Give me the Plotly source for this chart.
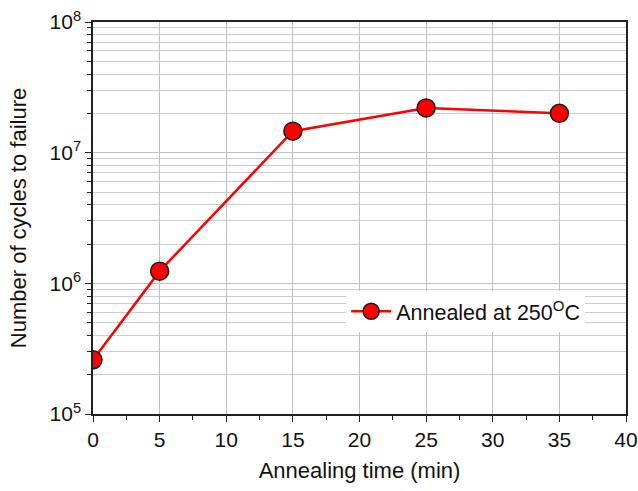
import plotly.graph_objects as go

# Fatigue life vs. annealing time
annealing_time = [0, 5, 15, 25, 35]
cycles_to_failure = [2.6e5, 1.24e6, 1.46e7, 2.2e7, 2.0e7]

x_ticks = [0, 5, 10, 15, 20, 25, 30, 35, 40]
y_ticks = [1e5, 1e6, 1e7, 1e8]
y_tick_text = ["10<sup>5</sup>", "10<sup>6</sup>", "10<sup>7</sup>", "10<sup>8</sup>"]
minor_y = [m * 10 ** e for e in (5, 6, 7) for m in range(2, 10)]

series_name = "Annealed at 250<sup>O</sup>C"

fig = go.Figure()
fig.add_trace(go.Scatter(
    x=annealing_time,
    y=cycles_to_failure,
    mode="lines+markers",
    name=series_name,
    line=dict(color="#ff0000", width=2.5),
    marker=dict(symbol="circle", size=18, color="#ff0000",
                line=dict(color="#1a1a1a", width=1.5)),
))

font = "Liberation Sans, Arial, sans-serif"

fig.update_layout(
    width=638, height=491,
    margin=dict(l=93, r=12, t=22, b=77),
    paper_bgcolor="white",
    plot_bgcolor="white",
    font=dict(family=font, size=21, color="#111111"),
    showlegend=True,
    legend=dict(
        x=0.475, y=0.262, xanchor="left", yanchor="middle",
        bgcolor="white", borderwidth=0,
        font=dict(family=font, size=21.5, color="#111111"),
        itemwidth=40,
    ),
    xaxis=dict(
        range=[0, 40],
        tickvals=x_ticks,
        automargin=False,
        ticks="outside", ticklen=6, tickwidth=1.2, tickcolor="#222",
        showgrid=True, gridcolor="#c0c0c0", gridwidth=1,
        showline=True, linecolor="#222", linewidth=1.5, mirror=True,
        zeroline=False,
        minor=dict(dtick=2.5, ticks="outside", ticklen=4, tickcolor="#222",
                   showgrid=False),
        title=dict(text="Annealing time (min)", font=dict(size=22), standoff=13),
        tickfont=dict(size=21),
    ),
    yaxis=dict(
        type="log",
        range=[5, 8],
        tickvals=y_ticks,
        ticktext=y_tick_text,
        automargin=False,
        ticks="outside", ticklen=6, tickwidth=1.2, tickcolor="#222",
        showgrid=True, gridcolor="#c0c0c0", gridwidth=1,
        showline=True, linecolor="#222", linewidth=1.5, mirror=True,
        zeroline=False,
        minor=dict(tickvals=minor_y, ticks="outside", ticklen=4,
                   tickcolor="#222", showgrid=True, gridcolor="#cccccc",
                   gridwidth=1),
        title=dict(text="Number of cycles to failure", font=dict(size=22),
                   standoff=17),
        tickfont=dict(size=21),
    ),
)

fig.write_html("out.html")
